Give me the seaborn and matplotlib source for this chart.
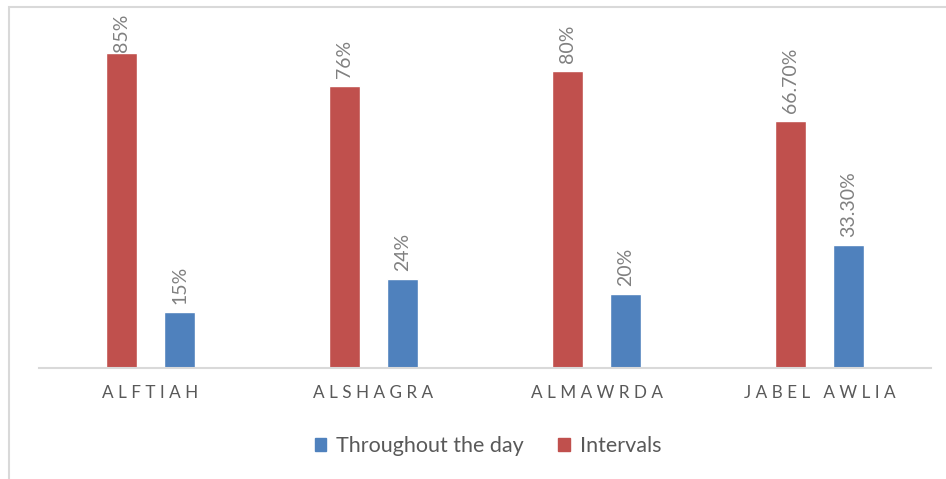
import matplotlib
matplotlib.use("Agg")
import matplotlib.pyplot as plt
import seaborn as sns
import pandas as pd
from matplotlib.patches import Patch, Rectangle

# Survey results by district
districts = ["ALFTIAH", "ALSHAGRA", "ALMAWRDA", "JABEL AWLIA"]
intervals = [85, 76, 80, 66.7]
throughout_day = [15, 24, 20, 33.3]
series_names = ["Intervals", "Throughout the day"]
series_colors = {"Intervals": "#C0504D", "Throughout the day": "#4F81BD"}

df = pd.DataFrame({
    "district": districts * 2,
    "series": [series_names[0]] * len(districts) + [series_names[1]] * len(districts),
    "value": intervals + throughout_day,
})

sns.set_theme(style="white")
plt.rcParams["font.family"] = ["Lato", "DejaVu Sans"]

W, H = 946, 479
fig = plt.figure(figsize=(W / 100, H / 100), dpi=100)
ax = fig.add_axes([39 / W, (H - 368) / H, (931 - 39) / W, (368 - 7) / H])

sns.barplot(data=df, x="district", y="value", hue="series", hue_order=series_names,
            palette=series_colors, width=0.52, gap=0.48, dodge=True,
            saturation=1, ax=ax, legend=False)

ax.set_ylim(0, 97.4)
ax.set_xlim(-0.5, len(districts) - 0.5)

# Value labels, rotated above each bar; pulled down if they would leave the chart
fig.canvas.draw()
renderer = fig.canvas.get_renderer()
top_limit = H - 14  # highest pixel a label may reach
for container in ax.containers:
    for bar in container:
        v = bar.get_height()
        txt = f"{v:.0f}%" if float(v).is_integer() else f"{v:.2f}%"
        ann = ax.annotate(txt, (bar.get_x() + bar.get_width() / 2, v),
                          xytext=(0, 8), textcoords="offset pixels",
                          rotation=90, ha="center", va="bottom",
                          fontsize=14, color="#808080")
        ext = ann.get_window_extent(renderer)
        if ext.y1 > top_limit:
            ann.xyann = (0, max(0, 8 - (ext.y1 - top_limit)))

for s in ["top", "right", "left"]:
    ax.spines[s].set_visible(False)
ax.spines["bottom"].set_color("#d9d9d9")
ax.spines["bottom"].set_linewidth(1.5)
ax.set_yticks([])
ax.set_ylabel("")
ax.set_xlabel("")
ax.tick_params(axis="x", length=0, pad=12)
spaced = [" ".join(list(d)) for d in districts]
ax.set_xticks(range(len(districts)))
ax.set_xticklabels(spaced, fontsize=12.3, color="#595959")

handles = [Patch(color=series_colors["Throughout the day"]),
           Patch(color=series_colors["Intervals"])]
fig.legend(handles, ["Throughout the day", "Intervals"], loc="center",
           bbox_to_anchor=(488 / W, 1 - 446 / H), ncol=2, frameon=False,
           fontsize=15.5, labelcolor="#595959", handlelength=0.55, handleheight=0.55,
           handletextpad=0.45, columnspacing=1.6)

# Chart-area border
fig.patches.append(Rectangle((9 / W, -0.2), 1.5, 1.2 - 7 / H,
                             transform=fig.transFigure, fill=False,
                             edgecolor="#d9d9d9", linewidth=1.5))

fig.savefig("out.png", dpi=100)
